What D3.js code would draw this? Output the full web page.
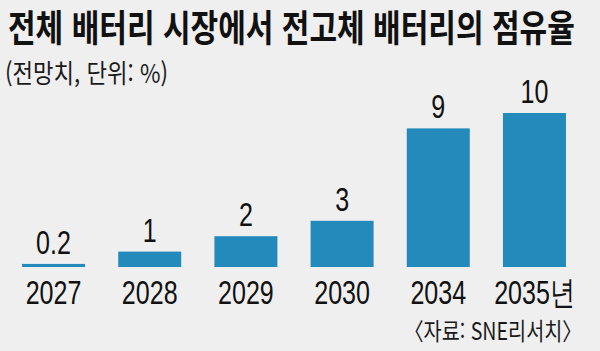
<!DOCTYPE html>
<html lang="ko">
<head>
    <meta charset="UTF-8">
    <title>전고체 배터리 점유율</title>
    <script src="https://d3js.org/d3.v7.min.js"></script>
    <style>
        body {
            margin: 0;
            padding: 0;
            background-color: #efefef;
        }
        svg {
            display: block;
        }
        .title {
            font-family: "Noto Sans CJK KR", sans-serif;
            font-weight: 700;
            font-size: 37px;
            fill: #111;
        }
        .sub {
            font-family: "Noto Sans CJK KR", sans-serif;
            font-size: 26px;
            fill: #1a1a1a;
        }
        .src {
            font-family: "Noto Sans CJK KR", sans-serif;
            font-size: 24px;
            fill: #1a1a1a;
        }
        .num {
            font-family: "Liberation Sans", Arial, sans-serif;
            font-size: 33px;
            fill: #111;
        }
    </style>
</head>
<body>
    <svg id="chart"></svg>
    <script>
        // data
        const years = ["2027", "2028", "2029", "2030", "2034", "2035년"];
        const shares = [0.2, 1, 2, 3, 9, 10];
        const valueLabels = ["0.2", "1", "2", "3", "9", "10"];

        const title = "전체 배터리 시장에서 전고체 배터리의 점유율";
        const subtitle = "(전망치, 단위: %)";
        const source = "〈자료: SNE리서치〉";

        const W = 600, H = 351;
        const baseY = 267;
        const squeeze = 0.76; // the number font is condensed in the original

        const svg = d3.select("#chart")
            .attr("width", W)
            .attr("height", H);

        svg.append("rect")
            .attr("width", W)
            .attr("height", H)
            .attr("fill", "#efefef");

        const x = d3.scaleBand()
            .domain(years)
            .range([22 - 96 * 0.17, 566 + 96 * 0.17])
            .paddingInner(0.345)
            .paddingOuter(0.17);

        const y = d3.scaleLinear().domain([0, 10]).range([baseY, 113]);

        // squeeze a text horizontally so it fills a given width
        function fitText(cls, str, left, baseline, width, anchorRight) {
            const t = svg.append("text").attr("class", cls).text(str);
            const natural = t.node().getComputedTextLength();
            const sx = width / natural;
            const x0 = anchorRight ? left - width : left;
            t.attr("transform", `translate(${x0},${baseline}) scale(${sx},1)`);
            return t;
        }

        fitText("title", title, 8, 42, 567);
        fitText("sub", subtitle, 5, 83, 163);
        fitText("src", source, 582, 340, 178, true);

        svg.selectAll("rect.bar")
            .data(shares)
            .join("rect")
            .attr("class", "bar")
            .attr("x", (d, i) => x(years[i]))
            .attr("width", x.bandwidth())
            .attr("y", d => y(d))
            .attr("height", d => baseY - y(d))
            .attr("fill", "#2489bb");

        // value labels above bars
        svg.selectAll("text.val")
            .data(shares)
            .join("text")
            .attr("class", "num val")
            .attr("text-anchor", "middle")
            .attr("transform", (d, i) =>
                `translate(${x(years[i]) + x.bandwidth() / 2},${y(d) - 10}) scale(${squeeze},1)`)
            .text((d, i) => valueLabels[i]);

        // year labels under bars
        svg.selectAll("text.year")
            .data(years)
            .join("text")
            .attr("class", "num year")
            .attr("text-anchor", "middle")
            .attr("transform", d =>
                `translate(${x(d) + x.bandwidth() / 2},${baseY + 37}) scale(${squeeze},1)`)
            .text(d => d);
    </script>
</body>
</html>
